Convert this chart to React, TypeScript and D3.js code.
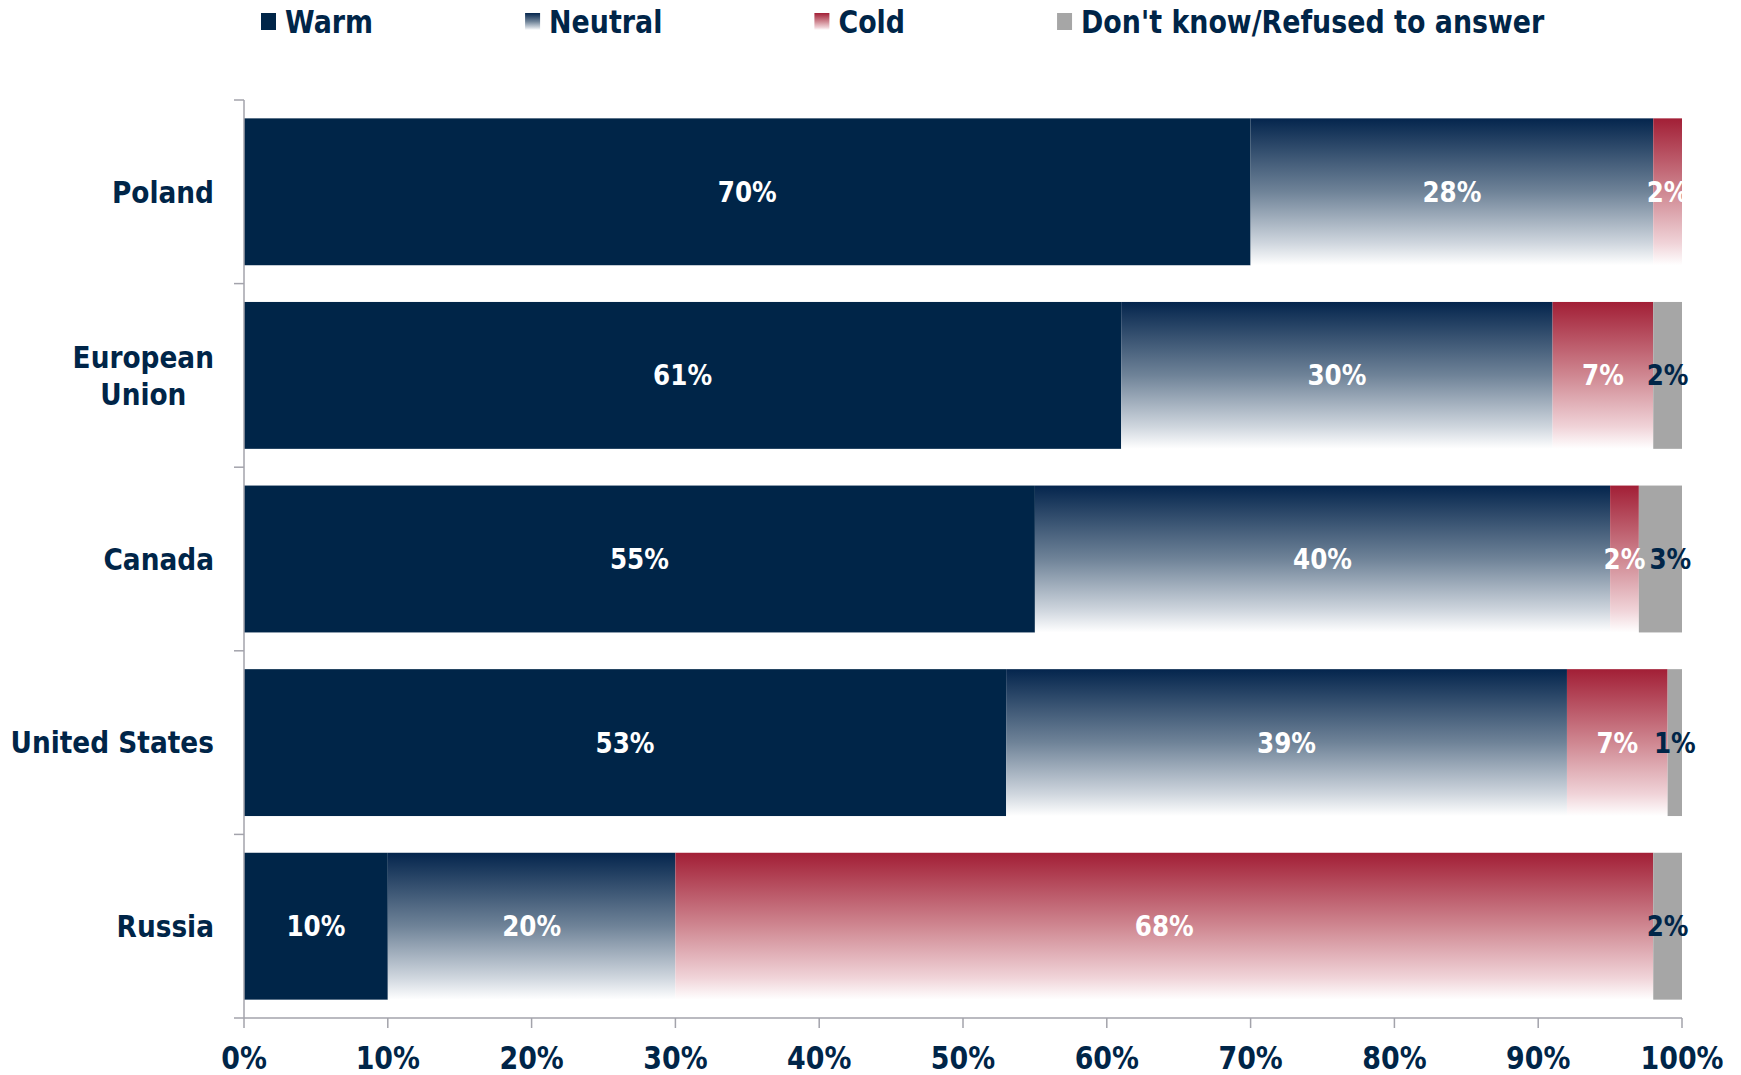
import React, { useEffect, useRef } from 'react';
import * as d3 from 'd3';

// survey data (%)
const categories = ['Poland', 'European Union', 'Canada', 'United States', 'Russia'];
const categoryLines = [['Poland'], ['European', 'Union'], ['Canada'], ['United States'], ['Russia']];
const warm = [70, 61, 55, 53, 10];
const neutral = [28, 30, 40, 39, 20];
const cold = [2, 7, 2, 7, 68];
const dontKnow = [0, 2, 3, 1, 2];
const seriesNames = ['Warm', 'Neutral', 'Cold', "Don't know/Refused to answer"];
const xTicks = [0, 10, 20, 30, 40, 50, 60, 70, 80, 90, 100];

const NAVY = '#002548';
const GRAY = '#a6a6a6';
const AXIS = '#a3a3ab';
const FONT = '"DejaVu Sans", sans-serif';

const App: React.FC = () => {
  const svgRef = useRef<SVGSVGElement>(null);
  const width = 1741;
  const height = 1075;

  useEffect(() => {
    if (!svgRef.current) return;
    const svg = d3.select(svgRef.current);
    svg.selectAll('*').remove();

    const margin = { top: 100, right: 59, bottom: 57, left: 244 };
    const innerW = width - margin.left - margin.right;
    const innerH = height - margin.top - margin.bottom;

    // gradients
    const defs = svg.append('defs');
    const grad = (id: string, stops: [number, string][]) => {
      const lg = defs.append('linearGradient')
        .attr('id', id)
        .attr('x1', 0).attr('y1', 0).attr('x2', 0).attr('y2', 1);
      stops.forEach(([o, c]) => lg.append('stop').attr('offset', o).attr('stop-color', c));
    };
    grad('gNeutral', [[0, '#04254d'], [0.5, '#6f8398'], [0.85, '#cfd6de'], [1, '#ffffff']]);
    grad('gCold', [[0, '#a21f36'], [0.5, '#cf8791'], [0.85, '#f0d3d8'], [1, '#ffffff']]);

    const fills = [NAVY, 'url(#gNeutral)', 'url(#gCold)', GRAY];
    const labelColors = ['#ffffff', '#ffffff', '#ffffff', NAVY];

    const rows = categories.map((c, i) => ({
      category: c,
      Warm: warm[i],
      Neutral: neutral[i],
      Cold: cold[i],
      [seriesNames[3]]: dontKnow[i],
    }));

    const stack = d3.stack<any>().keys(seriesNames);
    const series = stack(rows);

    const x = d3.scaleLinear().domain([0, 100]).range([0, innerW]);
    const y = d3.scaleBand()
      .domain(categories)
      .range([0, innerH])
      .paddingInner(0.2)
      .paddingOuter(0.1);

    const g = svg.append('g')
      .attr('transform', `translate(${margin.left},${margin.top})`);

    // bars
    series.forEach((s, si) => {
      g.append('g')
        .selectAll('rect')
        .data(s)
        .join('rect')
        .attr('x', d => x(d[0]))
        .attr('y', d => y(d.data.category) || 0)
        .attr('width', d => x(d[1]) - x(d[0]))
        .attr('height', y.bandwidth())
        .attr('fill', fills[si]);
    });

    // value labels, nudged right when they would collide with the previous one
    const labelLayer = g.append('g');
    categories.forEach((c, ci) => {
      const cy = (y(c) || 0) + y.bandwidth() / 2;
      let prevRight = -Infinity;
      series.forEach((s, si) => {
        const d = s[ci];
        const v = d[1] - d[0];
        if (v <= 0) return;
        const t = labelLayer.append('text')
          .attr('text-anchor', 'middle')
          .attr('dy', '0.36em')
          .style('font-family', FONT)
          .style('font-weight', 'bold')
          .style('font-size', '28px')
          .style('fill', labelColors[si])
          .text(`${Math.round(v)}%`);
        const w = (t.node() as SVGTextElement).getComputedTextLength() * 0.88;
        let cx = x((d[0] + d[1]) / 2);
        if (cx - w / 2 < prevRight + 4) cx = prevRight + 4 + w / 2;
        prevRight = cx + w / 2;
        t.attr('transform', `translate(${cx},${cy}) scale(0.88,1)`);
      });
    });

    // y axis
    const yAxis = g.append('g');
    yAxis.append('line')
      .attr('x1', 0).attr('x2', 0)
      .attr('y1', 0).attr('y2', innerH)
      .attr('stroke', AXIS).attr('stroke-width', 1.5);
    const bounds = categories.map(c => (y(c) || 0) - (y.step() * y.paddingInner()) / 2);
    bounds.push(innerH);
    bounds[0] = 0;
    yAxis.selectAll('.ytick')
      .data(bounds)
      .join('line')
      .attr('x1', -10).attr('x2', 0)
      .attr('y1', d => d).attr('y2', d => d)
      .attr('stroke', AXIS).attr('stroke-width', 1.5);

    // category labels: block right-aligned, wrapped lines centred on each other
    categories.forEach((c, i) => {
      const lines = categoryLines[i];
      const cy = (y(c) || 0) + y.bandwidth() / 2;
      const lh = 37;
      const texts = lines.map((ln, li) =>
        g.append('text')
          .attr('text-anchor', 'middle')
          .attr('dy', '0.36em')
          .style('font-family', FONT)
          .style('font-weight', 'bold')
          .style('font-size', '30px')
          .style('fill', NAVY)
          .text(ln)
          .attr('data-y', cy + (li - (lines.length - 1) / 2) * lh)
      );
      const maxW = d3.max(texts, t => (t.node() as SVGTextElement).getComputedTextLength() * 0.88) || 0;
      texts.forEach(t => {
        t.attr('transform', `translate(${-30 - maxW / 2},${t.attr('data-y')}) scale(0.88,1)`);
      });
    });

    // x axis
    const xAxis = g.append('g').attr('transform', `translate(0,${innerH})`);
    xAxis.append('line')
      .attr('x1', 0).attr('x2', innerW)
      .attr('stroke', AXIS).attr('stroke-width', 1.5);
    xAxis.selectAll('.xtick')
      .data(xTicks)
      .join('line')
      .attr('x1', d => x(d)).attr('x2', d => x(d))
      .attr('y1', 0).attr('y2', 10)
      .attr('stroke', AXIS).attr('stroke-width', 1.5);
    xAxis.selectAll('.xlabel')
      .data(xTicks)
      .join('text')
      .attr('transform', d => `translate(${x(d)},39) scale(0.84,1)`)
      .attr('text-anchor', 'middle')
      .attr('dy', '0.36em')
      .style('font-family', FONT)
      .style('font-weight', 'bold')
      .style('font-size', '32px')
      .style('fill', NAVY)
      .text(d => `${d}%`);

    // legend
    const legend = svg.append('g').attr('transform', 'translate(261,21)');
    let lx = 0;
    seriesNames.forEach((name, i) => {
      const item = legend.append('g').attr('transform', `translate(${lx},0)`);
      item.append('rect')
        .attr('x', 0).attr('y', -8)
        .attr('width', 15).attr('height', 17)
        .attr('fill', fills[i]);
      const t = item.append('text')
        .attr('transform', 'translate(24,0) scale(0.84,1)')
        .attr('dy', '0.36em')
        .style('font-family', FONT)
        .style('font-weight', 'bold')
        .style('font-size', '32px')
        .style('fill', NAVY)
        .text(name);
      const w = (t.node() as SVGTextElement).getComputedTextLength() * 0.84;
      lx += 24 + w + 152;
    });
  }, []);

  return (
    <svg
      ref={svgRef}
      width={width}
      height={height}
      style={{ position: 'absolute', left: 0, top: 0, background: '#ffffff', display: 'block' }}
    />
  );
};

export default App;
